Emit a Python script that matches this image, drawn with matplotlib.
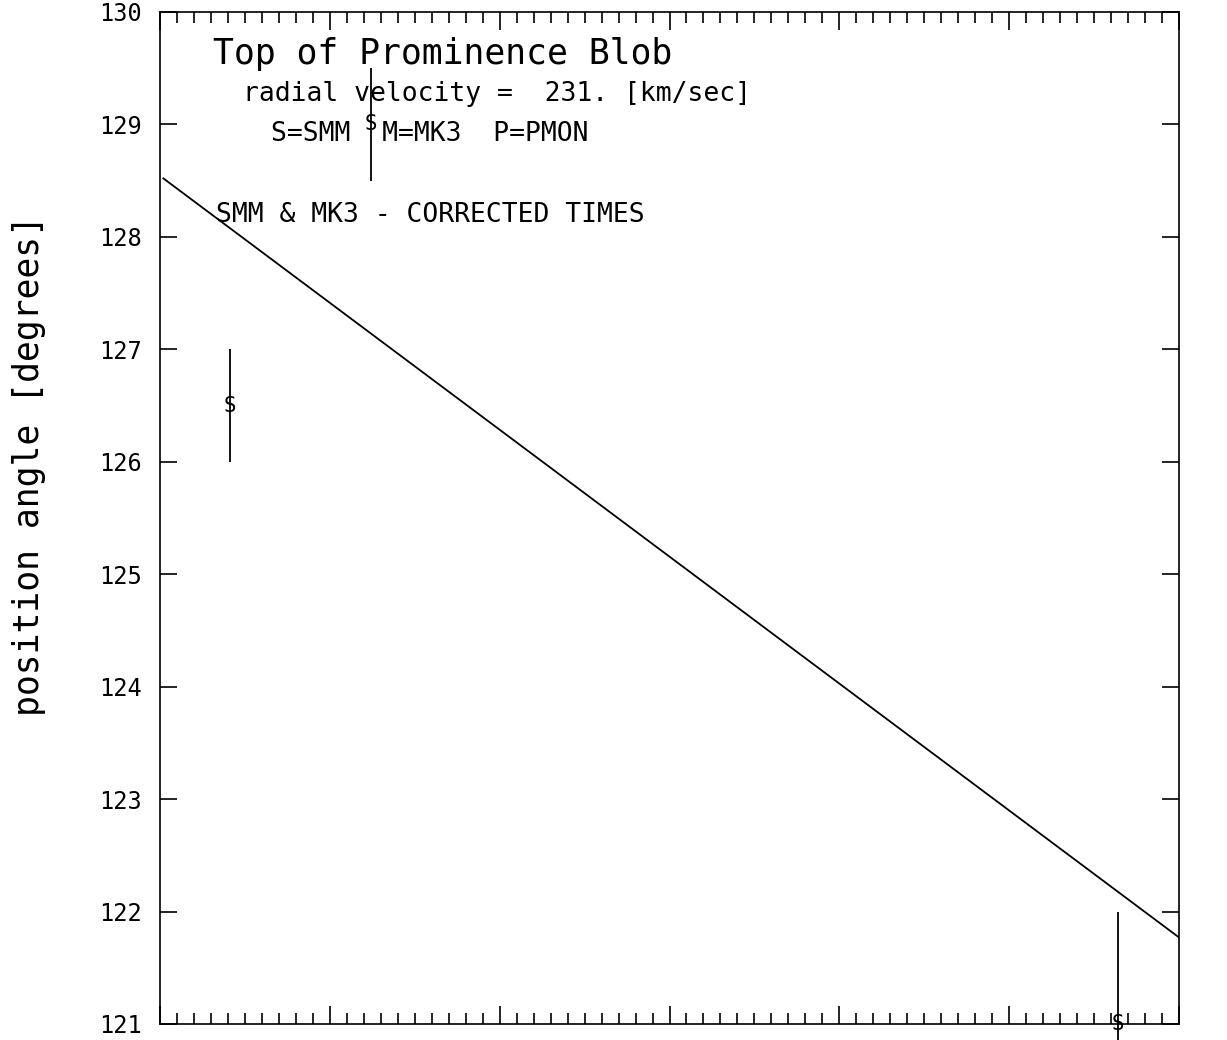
import matplotlib
matplotlib.use('Agg')
import matplotlib.pyplot as plt
from matplotlib.ticker import MultipleLocator, FixedLocator, NullFormatter

plt.rcParams['font.family'] = ['DejaVu Sans Mono', 'DejaVu Sans']

# ---- data ----
fit_x = [0.02, 6.0]
fit_pa = [128.52, 121.77]

smm_x = [0.41, 1.24, 5.64]
smm_pa = [126.5, 129.0, 121.0]
smm_err = [0.5, 0.5, 1.0]
smm_symbol = ['S', 'S', 'S']

y_ticks = [121, 122, 123, 124, 125, 126, 127, 128, 129, 130]
y_tick_labels = ['121', '122', '123', '124', '125', '126', '127', '128', '129', '130']

title = 'Top of Prominence Blob'
velocity_text = 'radial velocity =  231. [km/sec]'
legend_text = 'S=SMM  M=MK3  P=PMON'
note_text = 'SMM & MK3 - CORRECTED TIMES'
ylabel = 'position angle [degrees]'

# ---- figure ----
W, H = 1227, 1040
fig = plt.figure(figsize=(W / 100, H / 100), dpi=100)
fig.patch.set_facecolor('white')
ax = fig.add_axes([160 / W, 16 / H, 1019 / W, 1012 / H])
ax.set_xlim(0, 6)
ax.set_ylim(121, 130)

lw = 1.2
for s in ax.spines.values():
    s.set_linewidth(lw)
    s.set_color('black')

# fit line
ax.plot(fit_x, fit_pa, color='black', lw=1.3)

# error bars with letter symbols
cont = ax.errorbar(smm_x, smm_pa, yerr=smm_err, fmt='none', ecolor='black',
                   elinewidth=1.3, capsize=0)
for art in cont.get_children():
    art.set_clip_on(False)
for x, y, s in zip(smm_x, smm_pa, smm_symbol):
    ax.text(x, y, s, ha='center', va='center', fontsize=15, clip_on=False)

# ticks
ax.xaxis.set_major_locator(MultipleLocator(1))
ax.xaxis.set_minor_locator(MultipleLocator(0.1))
ax.xaxis.set_major_formatter(NullFormatter())
ax.tick_params(axis='x', which='major', direction='in', length=13, width=lw,
               top=True, bottom=True, labelbottom=False)
ax.tick_params(axis='x', which='minor', direction='in', length=8, width=lw,
               top=True, bottom=True)
ax.yaxis.set_major_locator(FixedLocator(y_ticks))
ax.set_yticklabels(y_tick_labels)
ax.tick_params(axis='y', which='major', direction='in', length=12, width=lw,
               left=True, right=True, labelsize=17, pad=13)
ax.tick_params(axis='y', which='minor', left=False, right=False)

# texts (axes fraction from pixel positions)
def fx(px):
    return (px - 160) / 1019

def fy(py):
    return (1024 - py) / 1012

ax.text(fx(213), fy(64), title, transform=ax.transAxes, fontsize=25,
        ha='left', va='baseline')
ax.text(fx(243), fy(101), velocity_text, transform=ax.transAxes, fontsize=19,
        ha='left', va='baseline')
ax.text(fx(271), fy(141), legend_text, transform=ax.transAxes, fontsize=19,
        ha='left', va='baseline')
ax.text(fx(216), fy(222), note_text, transform=ax.transAxes, fontsize=19,
        ha='left', va='baseline')

fig.text(29 / W, 1 - 465 / H, ylabel, rotation=90, ha='center', va='center',
         fontsize=25)

fig.savefig('out.png', dpi=100, facecolor='white')
